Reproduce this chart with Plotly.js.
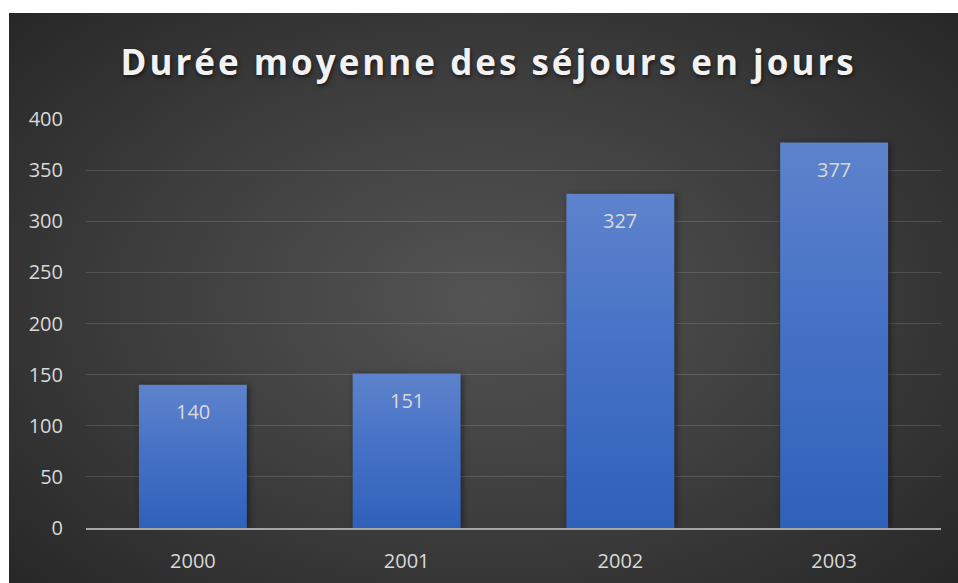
<!DOCTYPE html>
<html>
<head>
<meta charset="utf-8">
<script src="https://cdn.plot.ly/plotly-3.0.1.min.js"></script>
<style>
html, body { margin: 0; padding: 0; background: #ffffff; }
#bg { position: absolute; left: 9px; top: 13px; width: 949px; height: 570px;
  background: radial-gradient(ellipse 70% 75% at 50% 50%, #545454 0%, #3e3e3e 50%, #262626 100%); }
#chart { position: absolute; left: 0; top: 0; width: 958px; height: 583px; }
#chart .gtitle { letter-spacing: 3px; }
#chart .bars .point path { fill: url(#barGrad) !important; filter: drop-shadow(2px 1px 3px rgba(0,0,0,0.45)); }
</style>
</head>
<body>
<svg width="0" height="0" style="position:absolute">
  <defs>
    <linearGradient id="barGrad" x1="0" y1="0" x2="0" y2="1">
      <stop offset="0" stop-color="#5e83cc"/>
      <stop offset="0.45" stop-color="#4672c6"/>
      <stop offset="1" stop-color="#2f61ba"/>
    </linearGradient>
  </defs>
</svg>
<div id="bg"></div>
<div id="chart"></div>
<script>
const categories = ["2000", "2001", "2002", "2003"];
const values = [140, 151, 327, 377];
const yTicks = [0, 50, 100, 150, 200, 250, 300, 350, 400];
const titleText = "Durée moyenne des séjours en jours";

const labelFont = { family: "Open Sans, sans-serif", size: 20, color: "#d9d9d9" };

const trace = {
  type: "bar",
  x: categories,
  y: values,
  textposition: "none",
  marker: { color: "#4872c6", line: { width: 0 } },
  width: 0.505,
  hoverinfo: "none"
};

const annotations = categories.map((c, i) => ({
  x: i, y: values[i], xref: "x", yref: "y",
  text: String(values[i]),
  showarrow: false,
  yanchor: "middle", xanchor: "center",
  yshift: -27,
  font: labelFont
}));

const layout = {
  width: 958, height: 583,
  paper_bgcolor: "rgba(0,0,0,0)",
  plot_bgcolor: "rgba(0,0,0,0)",
  margin: { l: 86, r: 17, t: 119, b: 55 },
  title: {
    text: "<b>" + titleText + "</b>",
    font: { family: "Open Sans, sans-serif", size: 35, color: "#f2f2f2", shadow: "1px 2px 4px rgba(0,0,0,0.6)" },
    x: 0.51, xanchor: "center", y: 0.892, yanchor: "middle"
  },
  xaxis: {
    type: "category",
    categoryarray: categories,
    showgrid: false,
    showline: true, linecolor: "#a6a6a6", linewidth: 2,
    ticks: "", ticklabelstandoff: 14,
    tickfont: labelFont,
    zeroline: false, fixedrange: true
  },
  yaxis: {
    range: [0, 400],
    tickvals: yTicks,
    ticktext: yTicks.map(String),
    showgrid: true, gridcolor: "rgba(255,255,255,0.13)", gridwidth: 1,
    zeroline: false, showline: false,
    ticks: "", ticklabelstandoff: 22,
    tickfont: labelFont,
    fixedrange: true
  },
  annotations: annotations,
  showlegend: false,
  bargap: 0.495
};

Plotly.newPlot("chart", [trace], layout, { displayModeBar: false, staticPlot: true });
</script>
</body>
</html>
